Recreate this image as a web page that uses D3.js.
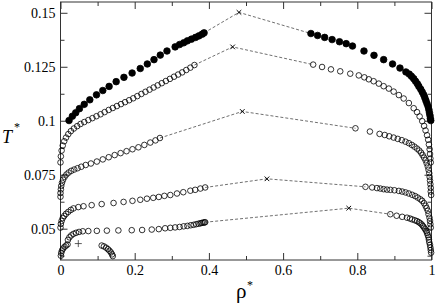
<!DOCTYPE html>
<html lang="en">
<head>
<meta charset="utf-8">
<title>Coexistence curves</title>
<style>
body { margin: 0; background: #fff; }
.axis text { font-family: 'Liberation Serif', 'Times New Roman', serif; font-size: 14px; fill: #000; }
.axis line { stroke: #333; }
.tie { fill: none; stroke: #707070; stroke-width: 1; stroke-dasharray: 3,2; }
.title { font-family: 'Liberation Serif', 'Times New Roman', serif; fill: #000; }
</style>
</head>
<body>
<svg width="436" height="306"></svg>
<script src="https://d3js.org/d3.v7.min.js"></script>
<script>
// [rho*, T*], one list per branch
var c1Left = [[0.023,0.1001],[0.032,0.1021],[0.041,0.1037],[0.051,0.1056],[0.064,0.1076],[0.079,0.1097],[0.097,0.1120],[0.114,0.1140],[0.131,0.1159],[0.150,0.1181],[0.171,0.1201],[0.193,0.1221],[0.215,0.1242],[0.234,0.1263],[0.252,0.1283],[0.269,0.1304],[0.287,0.1323],[0.309,0.1342],[0.321,0.1353],[0.332,0.1361],[0.342,0.1370],[0.353,0.1378],[0.364,0.1386],[0.373,0.1393],[0.382,0.1401],[0.387,0.1407]];
var c1Crit = [0.481,0.1502];
var c1Right = [[0.675,0.1404],[0.693,0.1395],[0.712,0.1386],[0.732,0.1376],[0.752,0.1366],[0.770,0.1357],[0.787,0.1346],[0.818,0.1323],[0.845,0.1303],[0.871,0.1283],[0.895,0.1263],[0.915,0.1244],[0.931,0.1226],[0.940,0.1216],[0.946,0.1206],[0.952,0.1195],[0.957,0.1183],[0.962,0.1171],[0.966,0.1159],[0.971,0.1146],[0.975,0.1133],[0.979,0.1120],[0.982,0.1107],[0.985,0.1093],[0.988,0.1079],[0.991,0.1065],[0.993,0.1051],[0.9945,0.1037],[0.996,0.1024],[0.997,0.1010],[0.998,0.1001]];

var c2Left = [[0.000,0.0807],[0.001,0.0835],[0.003,0.0862],[0.006,0.0885],[0.010,0.0905],[0.015,0.0922],[0.021,0.0938],[0.028,0.0952],[0.036,0.0964],[0.045,0.0975],[0.054,0.0985],[0.064,0.0994],[0.075,0.1003],[0.086,0.1012],[0.097,0.1021],[0.108,0.1030],[0.119,0.1040],[0.130,0.1050],[0.141,0.1059],[0.152,0.1068],[0.163,0.1077],[0.174,0.1086],[0.185,0.1095],[0.196,0.1104],[0.207,0.1114],[0.218,0.1124],[0.229,0.1134],[0.240,0.1144],[0.251,0.1154],[0.262,0.1164],[0.273,0.1174],[0.284,0.1184],[0.295,0.1194],[0.306,0.1204],[0.317,0.1214],[0.328,0.1224],[0.339,0.1235],[0.350,0.1246],[0.361,0.1258]];
var c2Crit = [0.464,0.1342];
var c2Right = [[0.681,0.1260],[0.705,0.1249],[0.729,0.1238],[0.754,0.1229],[0.781,0.1218],[0.804,0.1210],[0.819,0.1201],[0.831,0.1192],[0.844,0.1183],[0.858,0.1172],[0.871,0.1160],[0.885,0.1149],[0.898,0.1135],[0.912,0.1119],[0.925,0.1103],[0.939,0.1082],[0.952,0.1058],[0.961,0.1040],[0.968,0.1020],[0.975,0.0998],[0.980,0.0976],[0.984,0.0955],[0.988,0.0933],[0.991,0.0912],[0.993,0.0890],[0.995,0.0868],[0.996,0.0846],[0.997,0.0825],[0.998,0.0807]];

var c3Left = [[0.000,0.0648],[0.000,0.0665],[0.001,0.0682],[0.002,0.0698],[0.004,0.0713],[0.007,0.0727],[0.011,0.0740],[0.016,0.0751],[0.022,0.0760],[0.029,0.0768],[0.037,0.0774],[0.046,0.0780],[0.056,0.0787],[0.068,0.0795],[0.082,0.0802],[0.098,0.0811],[0.114,0.0821],[0.130,0.0831],[0.146,0.0841],[0.162,0.0850],[0.178,0.0859],[0.194,0.0868],[0.210,0.0877],[0.226,0.0888],[0.242,0.0899],[0.256,0.0909],[0.268,0.0920]];
var c3Crit = [0.490,0.1043];
var c3Right = [[0.795,0.0965],[0.834,0.0950],[0.860,0.0939],[0.874,0.0934],[0.886,0.0928],[0.898,0.0922],[0.909,0.0916],[0.920,0.0910],[0.930,0.0903],[0.939,0.0896],[0.947,0.0888],[0.954,0.0880],[0.961,0.0871],[0.967,0.0862],[0.972,0.0852],[0.976,0.0841],[0.980,0.0829],[0.984,0.0817],[0.987,0.0803],[0.990,0.0788],[0.992,0.0773],[0.994,0.0757],[0.995,0.0740],[0.996,0.0723],[0.997,0.0706],[0.998,0.0689],[0.998,0.0672],[0.999,0.0656]];

var c4Left = [[0.000,0.0505],[0.001,0.0522],[0.003,0.0536],[0.006,0.0549],[0.010,0.0559],[0.015,0.0569],[0.021,0.0578],[0.028,0.0587],[0.035,0.0594],[0.048,0.0600],[0.062,0.0604],[0.084,0.0609],[0.111,0.0614],[0.143,0.0619],[0.170,0.0624],[0.194,0.0629],[0.215,0.0634],[0.233,0.0639],[0.250,0.0643],[0.265,0.0647],[0.280,0.0652],[0.296,0.0656],[0.314,0.0663],[0.331,0.0669],[0.350,0.0676],[0.363,0.0680],[0.377,0.0686],[0.390,0.0691]];
var c4Crit = [0.5565,0.0731];
var c4Right = [[0.822,0.0694],[0.840,0.0691],[0.853,0.0688],[0.862,0.0686],[0.871,0.0683],[0.880,0.0681],[0.889,0.0680],[0.900,0.0678],[0.912,0.0675],[0.921,0.0672],[0.930,0.0668],[0.939,0.0663],[0.948,0.0657],[0.956,0.0651],[0.963,0.0644],[0.970,0.0636],[0.975,0.0629],[0.980,0.0618],[0.984,0.0606],[0.987,0.0595],[0.990,0.0583],[0.992,0.0567],[0.9946,0.0551],[0.996,0.0536],[0.997,0.0521],[0.998,0.0505]];

var c5Left = [[0.020,0.0448],[0.024,0.0460],[0.029,0.0469],[0.035,0.0476],[0.042,0.0481],[0.050,0.0485],[0.060,0.0488],[0.075,0.0489],[0.098,0.0490],[0.125,0.0491],[0.156,0.0492],[0.192,0.0493],[0.220,0.0494],[0.246,0.0496],[0.265,0.0498],[0.282,0.0502],[0.296,0.0504],[0.309,0.0506],[0.321,0.0508],[0.332,0.0511],[0.342,0.0513],[0.351,0.0516],[0.359,0.0518],[0.366,0.0521],[0.372,0.0523],[0.377,0.0525],[0.381,0.0527],[0.385,0.0528],[0.388,0.0529],[0.390,0.0530]];
var c5Crit = [0.777,0.0595];
var c5Right = [[0.889,0.0567],[0.906,0.0560],[0.921,0.0555],[0.934,0.0551],[0.942,0.0547],[0.948,0.0543],[0.955,0.0539],[0.961,0.0535],[0.966,0.0530],[0.970,0.0525],[0.974,0.0519],[0.977,0.0512],[0.980,0.0505],[0.983,0.0497],[0.986,0.0489],[0.988,0.0480],[0.990,0.0470],[0.992,0.0460],[0.993,0.0449],[0.994,0.0437],[0.996,0.0425],[0.997,0.0413],[0.998,0.0401],[0.999,0.0389]];

// small low-temperature pocket
var c6Left = [[0.001,0.0375],[0.002,0.0388],[0.004,0.0399],[0.007,0.0408],[0.011,0.0416],[0.015,0.0422],[0.019,0.0427]];
var c6Crit = [0.048,0.0431];
var c6Right = [[0.111,0.0422],[0.117,0.0418],[0.123,0.0412],[0.128,0.0405],[0.132,0.0398],[0.136,0.0390],[0.139,0.0381],[0.141,0.0373]];

var xTicks = [0, 0.2, 0.4, 0.6, 0.8, 1];
var xTickLabels = ['0', '0.2', '0.4', '0.6', '0.8', '1'];
var xMinor = [0.1, 0.3, 0.5, 0.7, 0.9];
var yTicks = [0.05, 0.075, 0.1, 0.125, 0.15];
var yTickLabels = ['0.05', '0.075', '0.1', '0.125', '0.15'];
var yMinor = [0.0375, 0.0625, 0.0875, 0.1125, 0.1375];

var svg = d3.select('svg');
var padL = 60.5, padR = 431.5, padT = 2, padB = 260;

var x = d3.scaleLinear().domain([0, 1]).range([padL, padR]);
var y = d3.scaleLinear().domain([0.0355, 0.155]).range([padB, padT]);

var series = [
	{ left: c1Left, crit: c1Crit, right: c1Right, filled: true },
	{ left: c2Left, crit: c2Crit, right: c2Right, filled: false },
	{ left: c3Left, crit: c3Crit, right: c3Right, filled: false },
	{ left: c4Left, crit: c4Crit, right: c4Right, filled: false },
	{ left: c5Left, crit: c5Crit, right: c5Right, filled: false }
];

// ticks, all pointing inward
function fmt(labels, values) {
	return function(d) { return labels[values.indexOf(d)]; };
}
function clean(g) {
	g.select('.domain').remove();
	g.attr('font-family', null).attr('font-size', null);
}

svg.append('g').attr('class', 'axis').attr('transform', 'translate(0,' + padB + ')')
	.call(d3.axisBottom(x).tickValues(xTicks).tickFormat(fmt(xTickLabels, xTicks)).tickSize(-7).tickPadding(5)).call(clean);
svg.append('g').attr('class', 'axis').attr('transform', 'translate(0,' + padB + ')')
	.call(d3.axisBottom(x).tickValues(xMinor).tickFormat('').tickSize(-4)).call(clean);
svg.append('g').attr('class', 'axis').attr('transform', 'translate(0,' + padT + ')')
	.call(d3.axisTop(x).tickValues(xTicks).tickFormat('').tickSize(-7)).call(clean);
svg.append('g').attr('class', 'axis').attr('transform', 'translate(0,' + padT + ')')
	.call(d3.axisTop(x).tickValues(xMinor).tickFormat('').tickSize(-4)).call(clean);

svg.append('g').attr('class', 'axis').attr('transform', 'translate(' + padL + ',0)')
	.call(d3.axisLeft(y).tickValues(yTicks).tickFormat(fmt(yTickLabels, yTicks)).tickSize(-7).tickPadding(5)).call(clean);
svg.append('g').attr('class', 'axis').attr('transform', 'translate(' + padL + ',0)')
	.call(d3.axisLeft(y).tickValues(yMinor).tickFormat('').tickSize(-4)).call(clean);
svg.append('g').attr('class', 'axis').attr('transform', 'translate(' + padR + ',0)')
	.call(d3.axisRight(y).tickValues(yTicks).tickFormat('').tickSize(-7)).call(clean);
svg.append('g').attr('class', 'axis').attr('transform', 'translate(' + padR + ',0)')
	.call(d3.axisRight(y).tickValues(yMinor).tickFormat('').tickSize(-4)).call(clean);

svg.append('rect')
	.attr('x', padL).attr('y', padT)
	.attr('width', padR - padL).attr('height', padB - padT)
	.attr('fill', 'none').attr('stroke', '#333').attr('stroke-width', 1);

// dashed tie lines: end of vapour branch -> critical point -> start of liquid branch
var line = d3.line()
	.x(function(d) { return x(d[0]); })
	.y(function(d) { return y(d[1]); });

svg.append('g').selectAll('path')
	.data(series)
	.enter()
	.append('path')
	.attr('class', 'tie')
	.attr('d', function(s) {
		return line([s.left[s.left.length - 1], s.crit, s.right[0]]);
	});

// circles
var pts = [];
series.forEach(function(s) {
	s.left.concat(s.right).forEach(function(p) { pts.push({ p: p, filled: s.filled }); });
});
c6Left.concat(c6Right).forEach(function(p) { pts.push({ p: p, filled: false }); });

svg.append('g').selectAll('circle')
	.data(pts)
	.enter()
	.append('circle')
	.attr('cx', function(d) { return x(d.p[0]); })
	.attr('cy', function(d) { return y(d.p[1]); })
	.attr('r', function(d) { return d.filled ? 3.3 : 2.8; })
	.attr('fill', function(d) { return d.filled ? '#000' : 'none'; })
	.attr('stroke', '#000')
	.attr('stroke-width', 0.8);

// critical points as crosses
svg.append('g').selectAll('path')
	.data(series)
	.enter()
	.append('path')
	.attr('d', function(s) {
		var cx = x(s.crit[0]), cy = y(s.crit[1]), h = 2.3;
		return 'M' + (cx - h) + ',' + (cy - h) + 'L' + (cx + h) + ',' + (cy + h) +
			'M' + (cx - h) + ',' + (cy + h) + 'L' + (cx + h) + ',' + (cy - h);
	})
	.attr('stroke', '#000')
	.attr('stroke-width', 1);

svg.append('path')
	.attr('d', function() {
		var cx = x(c6Crit[0]), cy = y(c6Crit[1]), h = 3.5;
		return 'M' + (cx - h) + ',' + cy + 'L' + (cx + h) + ',' + cy +
			'M' + cx + ',' + (cy - h) + 'L' + cx + ',' + (cy + h);
	})
	.attr('stroke', '#333')
	.attr('stroke-width', 0.8);

// axis titles
svg.append('text')
	.attr('class', 'title')
	.attr('x', 2).attr('y', 143)
	.attr('font-style', 'italic').attr('font-size', 18)
	.text('T');
svg.append('text')
	.attr('class', 'title')
	.attr('x', 14).attr('y', 131)
	.attr('font-size', 12)
	.text('*');
svg.append('text')
	.attr('class', 'title')
	.attr('x', 236).attr('y', 298)
	.attr('font-size', 21)
	.text('ρ');
svg.append('text')
	.attr('class', 'title')
	.attr('x', 247).attr('y', 289)
	.attr('font-size', 12)
	.text('*');
</script>
</body>
</html>
